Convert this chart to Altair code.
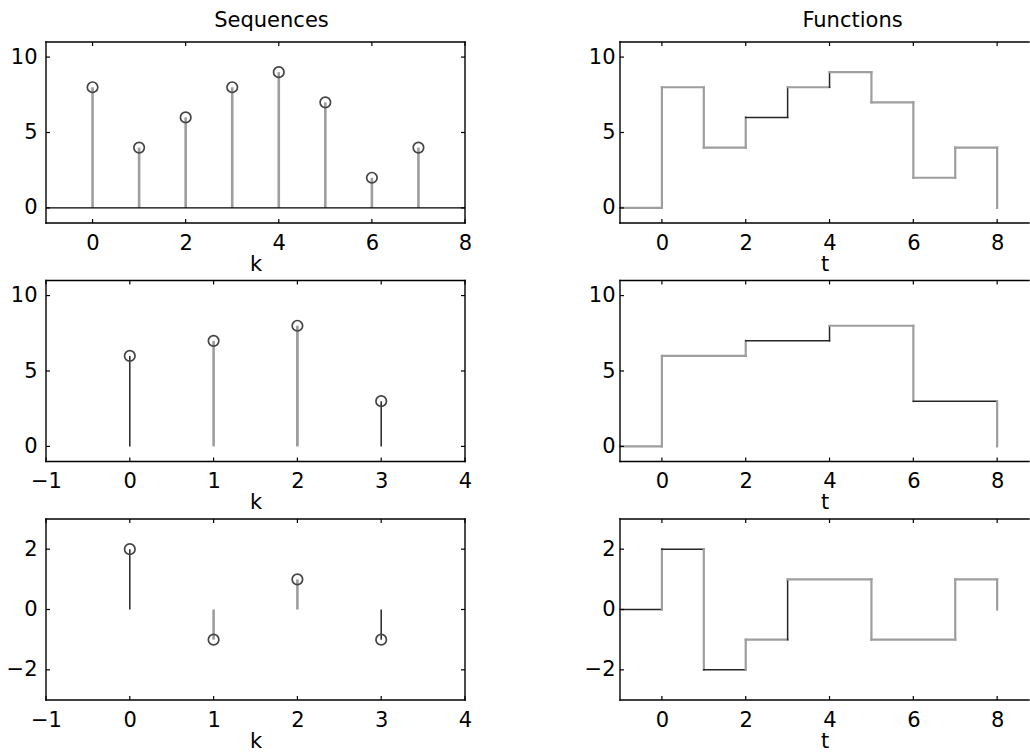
import altair as alt
import pandas as pd

# ---------------- data ----------------
k1 = [0, 1, 2, 3, 4, 5, 6, 7]
x1 = [8, 4, 6, 8, 9, 7, 2, 4]
s1 = ["g", "g", "g", "g", "g", "g", "g", "g"]

k2 = [0, 1, 2, 3]
x2 = [6, 7, 8, 3]
s2 = ["b", "g", "G", "b"]

k3 = [0, 1, 2, 3]
x3 = [2, -1, 1, -1]
s3 = ["b", "g", "g", "b"]

t1 = [-1, 0, 1, 2, 3, 4, 5, 6, 7, 8]
f1 = [0, 8, 4, 6, 8, 9, 7, 2, 4, 0]
h1 = ["g", "g", "g", "b", "g", "g", "g", "g", "g"]
v1 = ["g", "g", "g", "b", "b", "g", "g", "g", "g"]

t2 = [-1, 0, 2, 4, 6, 8]
f2 = [0, 6, 7, 8, 3, 0]
h2 = ["g", "g", "b", "g", "b"]
v2 = ["g", "g", "b", "g", "g"]

t3 = [-1, 0, 1, 2, 3, 5, 7, 8]
f3 = [0, 2, -2, -1, 1, -1, 1, 0]
h3 = ["b", "b", "b", "g", "g", "g", "g"]
v3 = ["g", "g", "g", "b", "g", "g", "g"]

xt_a = [0, 2, 4, 6, 8]
xt_b = [-1, 0, 1, 2, 3, 4]
yt_a = [0, 5, 10]
yt_b = [-2, 0, 2]

FONT = "DejaVu Sans"
FS = 21
W_L, W_R, H = 419, 409, 181

# line style keys -> (colour, width)
STEM_STYLE = {"g": ("#9e9e9e", 2.6), "G": ("#9e9e9e", 2.8), "b": ("#262626", 1.5)}
STEP_STYLE = {"g": ("#9e9e9e", 2.2), "G": ("#9e9e9e", 2.4), "b": ("#262626", 1.5)}


def frame(W, sides):
    one = alt.Data(values=[{"a": 0}])
    base = alt.Chart(one).mark_rule(color="black", strokeWidth=1.4, strokeCap="square")
    out = []
    if "top" in sides:
        out.append(base.encode(x=alt.value(0), x2=alt.value(W), y=alt.value(0)))
    if "bottom" in sides:
        out.append(base.encode(x=alt.value(0), x2=alt.value(W), y=alt.value(H)))
    if "left" in sides:
        out.append(base.encode(x=alt.value(0), y=alt.value(0), y2=alt.value(H)))
    if "right" in sides:
        out.append(base.encode(x=alt.value(W), y=alt.value(0), y2=alt.value(H)))
    return out


def tick_layers(xt, yt, xs, ys, ax, ay, W, right=True):
    dx = pd.DataFrame({"v": xt})
    dy = pd.DataFrame({"v": yt})
    L = 4
    tk = dict(color="black", strokeWidth=1.2)
    out = [
        alt.Chart(dx).mark_rule(**tk).encode(x=alt.X("v:Q", scale=xs, axis=ax), y=alt.value(0), y2=alt.value(L)),
        alt.Chart(dx).mark_rule(**tk).encode(x=alt.X("v:Q", scale=xs, axis=ax), y=alt.value(H), y2=alt.value(H - L)),
        alt.Chart(dy).mark_rule(**tk).encode(y=alt.Y("v:Q", scale=ys, axis=ay), x=alt.value(0), x2=alt.value(L)),
    ]
    if right:
        out.append(alt.Chart(dy).mark_rule(**tk).encode(y=alt.Y("v:Q", scale=ys, axis=ay), x=alt.value(W), x2=alt.value(W - L)))
    return out


def xaxis(title, vals):
    return alt.Axis(values=vals, title=title, ticks=False, domain=False, grid=False,
                    labelPadding=9, titlePadding=0, labelFlush=False, labelOverlap=False,
                    format="d")


def yaxis(vals, pad):
    return alt.Axis(values=vals, title=None, ticks=False, domain=False, grid=False,
                    labelPadding=pad, labelFlush=False, labelOverlap=False, format="d")


def seq_panel(k, x, s, xdom, xt, ydom, yt, zero_line=False, title=None):
    df = pd.DataFrame({"k": k, "x": x,
                       "c": [STEM_STYLE[q][0] for q in s],
                       "w": [STEM_STYLE[q][1] for q in s]})
    xs = alt.Scale(domain=xdom, nice=False, zero=False)
    ys = alt.Scale(domain=ydom, nice=False, zero=False)
    ax = xaxis("k", xt)
    ay = yaxis(yt, 9)
    base = alt.Chart(df)
    stems = base.mark_rule().encode(
        x=alt.X("k:Q", scale=xs, axis=ax),
        y=alt.Y("x:Q", scale=ys, axis=ay),
        y2=alt.datum(0),
        color=alt.Color("c:N", scale=None),
        strokeWidth=alt.StrokeWidth("w:Q", scale=None),
    )
    circles = base.mark_point(shape="circle", filled=False, size=110, stroke="#444444",
                              strokeWidth=1.7, opacity=1).encode(
        x=alt.X("k:Q", scale=xs, axis=ax),
        y=alt.Y("x:Q", scale=ys, axis=ay),
    )
    layers = [stems]
    if zero_line:
        layers.append(alt.Chart(alt.Data(values=[{"z": 0}])).mark_rule(color="black", strokeWidth=1.3).encode(
            y=alt.Y("z:Q", scale=ys, axis=ay), x=alt.value(0), x2=alt.value(W_L)))
    layers.append(circles)
    layers += tick_layers(xt, yt, xs, ys, ax, ay, W_L)
    layers += frame(W_L, ["top", "bottom", "left", "right"])
    ch = alt.layer(*layers).properties(width=W_L, height=H)
    if title:
        ch = ch.properties(title=alt.TitleParams(title, font=FONT, fontSize=FS, fontWeight="normal",
                                                 color="black", dx=16, offset=10))
    return ch


def func_panel(t, f, h, v, xt, ydom, yt, title=None):
    rows = []
    for i in range(len(t) - 1):
        rows.append({"a": t[i], "b": t[i + 1], "p": f[i], "q": f[i],
                     "c": STEP_STYLE[h[i]][0], "w": STEP_STYLE[h[i]][1]})
        rows.append({"a": t[i + 1], "b": t[i + 1], "p": f[i], "q": f[i + 1],
                     "c": STEP_STYLE[v[i]][0], "w": STEP_STYLE[v[i]][1]})
    df = pd.DataFrame(rows)
    xs = alt.Scale(domain=[-1, 8.76], nice=False, zero=False)
    ys = alt.Scale(domain=ydom, nice=False, zero=False)
    ax = xaxis("t", xt)
    ay = yaxis(yt, 5)
    segs = alt.Chart(df).mark_rule(strokeCap="square").encode(
        x=alt.X("a:Q", scale=xs, axis=ax),
        x2="b:Q",
        y=alt.Y("p:Q", scale=ys, axis=ay),
        y2="q:Q",
        color=alt.Color("c:N", scale=None),
        strokeWidth=alt.StrokeWidth("w:Q", scale=None),
    )
    layers = [segs]
    layers += tick_layers(xt, yt, xs, ys, ax, ay, W_R, right=False)
    layers += frame(W_R, ["top", "bottom", "left"])
    ch = alt.layer(*layers).properties(width=W_R, height=H)
    if title:
        ch = ch.properties(title=alt.TitleParams(title, font=FONT, fontSize=FS, fontWeight="normal",
                                                 color="black", dx=28, offset=10))
    return ch


panels = [
    seq_panel(k1, x1, s1, [-1, 8], xt_a, [-1, 11], yt_a, zero_line=True, title="Sequences"),
    func_panel(t1, f1, h1, v1, xt_a, [-1, 11], yt_a, title="Functions"),
    seq_panel(k2, x2, s2, [-1, 4], xt_b, [-1, 11], yt_a),
    func_panel(t2, f2, h2, v2, xt_a, [-1, 11], yt_a),
    seq_panel(k3, x3, s3, [-1, 4], xt_b, [-3, 3], yt_b),
    func_panel(t3, f3, h3, v3, xt_a, [-3, 3], yt_b),
]

chart = alt.concat(*panels, columns=2, spacing={"row": 57.5, "column": 155}, bounds="flush").properties(
    padding={"left": 6, "top": 10, "right": 0, "bottom": 1},
    background="white",
).configure_view(strokeWidth=0).configure_axis(
    labelFont=FONT, labelFontSize=FS, labelColor="black",
    titleFont=FONT, titleFontSize=FS, titleFontWeight="normal", titleColor="black",
)

chart.save("out.html", embed_options={"renderer": "svg", "actions": False})
